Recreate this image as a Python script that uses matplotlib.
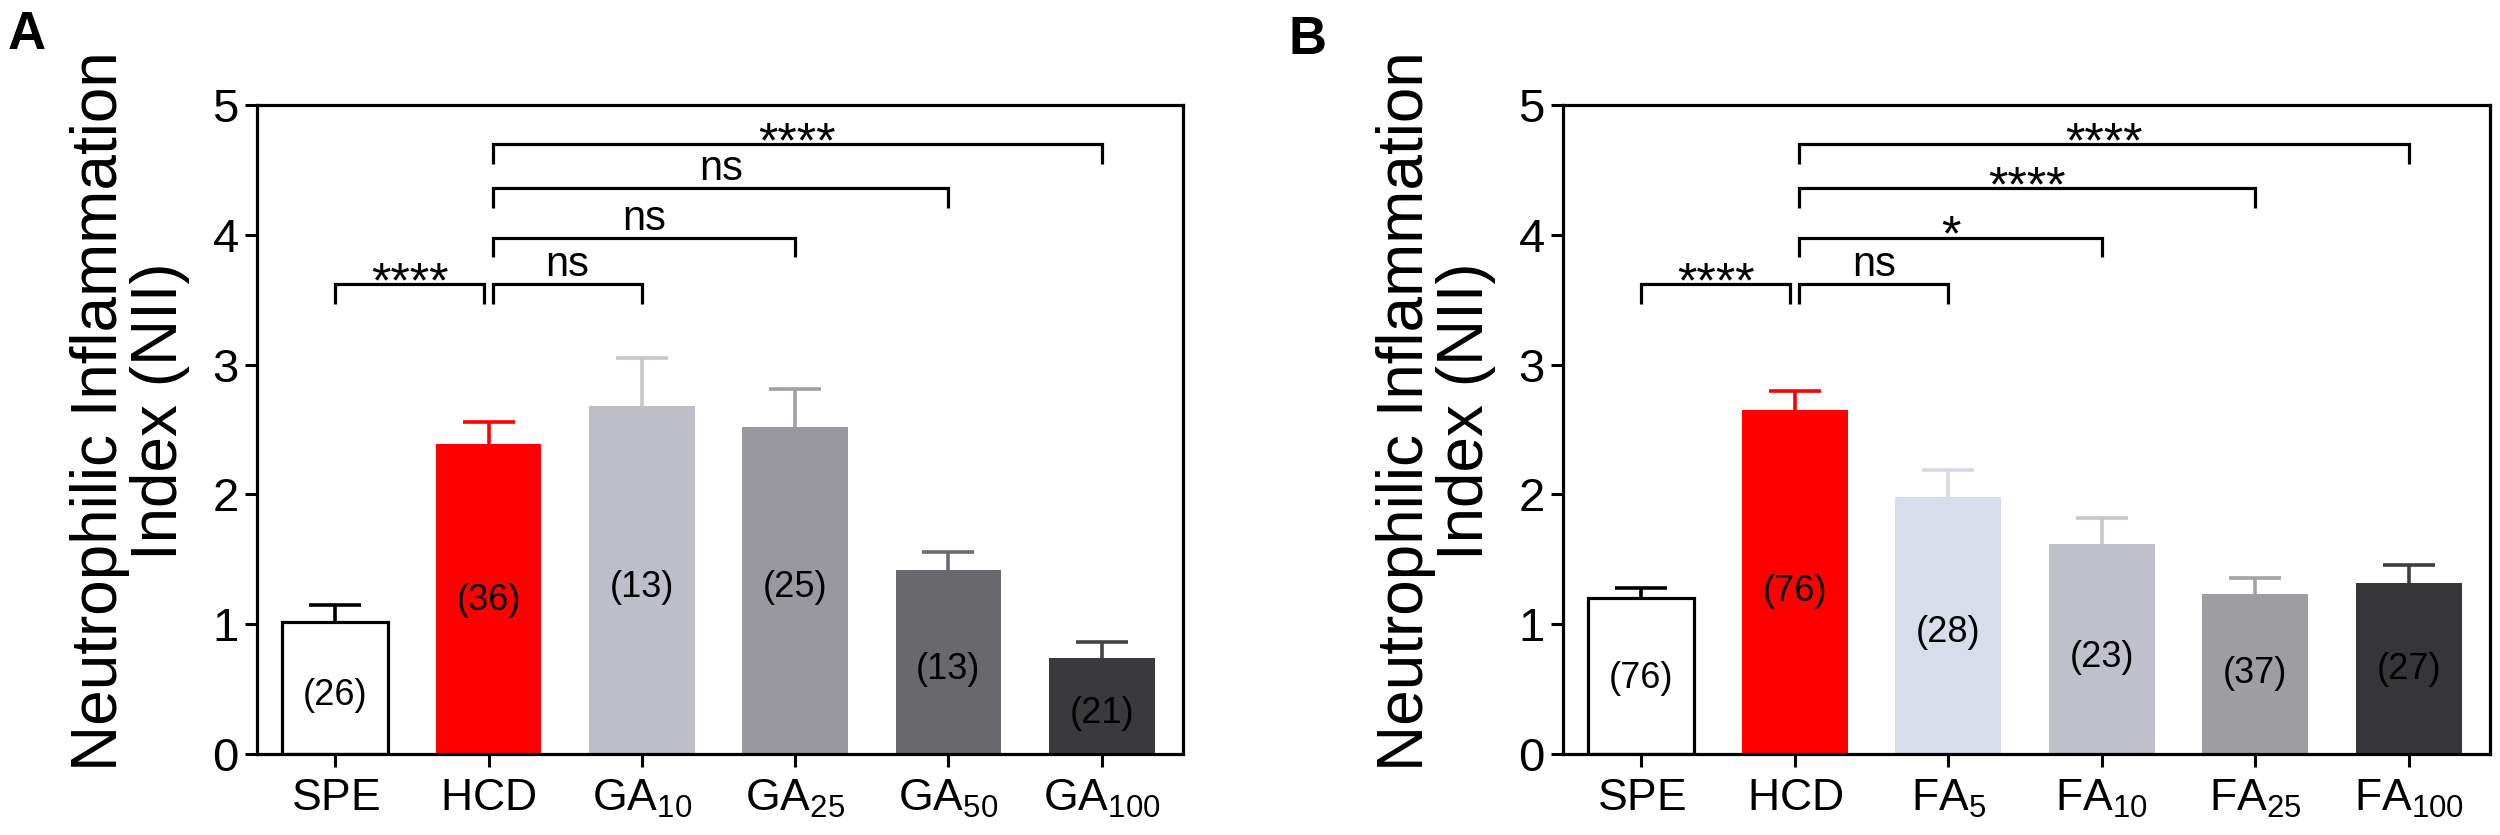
import matplotlib
matplotlib.use("Agg")
import matplotlib.pyplot as plt
import numpy as np

plt.rcParams['font.family'] = ['Liberation Sans', 'DejaVu Sans']
plt.rcParams['mathtext.fontset'] = 'custom'
plt.rcParams['mathtext.rm'] = 'Liberation Sans'
plt.rcParams['mathtext.it'] = 'Liberation Sans'
plt.rcParams['mathtext.bf'] = 'Liberation Sans:bold'

# ---------------- data ----------------
cats_a = ["SPE", "HCD", "GA_{10}", "GA_{25}", "GA_{50}", "GA_{100}"]
mean_a = [1.02, 2.39, 2.68, 2.52, 1.42, 0.74]
sem_a = [0.13, 0.17, 0.37, 0.29, 0.14, 0.12]
n_a = ["(26)", "(36)", "(13)", "(25)", "(13)", "(21)"]
nlab_y_a = [0.45, 1.18, 1.28, 1.28, 0.65, 0.31]
colors_a = ["#FFFFFF", "#FF0000", "#BEBEC9", "#98989E", "#69696D", "#3A3A3C"]
errc_a = ["#000000", "#FF0000", "#C6C6CF", "#A0A0A5", "#6B6B6F", "#444446"]
# brackets: (i, j, level y, text)
sig_a = [(0, 1, 3.62, "****"), (1, 2, 3.62, "ns"), (1, 3, 3.98, "ns"),
         (1, 4, 4.36, "ns"), (1, 5, 4.70, "****")]

cats_b = ["SPE", "HCD", "FA_{5}", "FA_{10}", "FA_{25}", "FA_{100}"]
mean_b = [1.20, 2.65, 1.98, 1.62, 1.23, 1.32]
sem_b = [0.08, 0.15, 0.21, 0.20, 0.13, 0.14]
n_b = ["(76)", "(76)", "(28)", "(23)", "(37)", "(27)"]
nlab_y_b = [0.58, 1.25, 0.94, 0.74, 0.62, 0.65]
colors_b = ["#FFFFFF", "#FF0000", "#D9DCEA", "#C0C0CB", "#9D9DA2", "#363638"]
errc_b = ["#000000", "#FF0000", "#D6D8E6", "#C6C6D0", "#A3A3A8", "#3E3E40"]
sig_b = [(0, 1, 3.62, "****"), (1, 2, 3.62, "ns"), (1, 3, 3.98, "*"),
         (1, 4, 4.36, "****"), (1, 5, 4.70, "****")]

yticks = [0, 1, 2, 3, 4, 5]
ylabel = "Neutrophilic Inflammation\nIndex (NII)"

fig = plt.figure(figsize=(25, 8.35), dpi=100)
axA = fig.add_axes([0.1028, 0.097, 0.3704, 0.777])
axB = fig.add_axes([0.6252, 0.097, 0.3708, 0.777])


def draw(ax, cats, mean, sem, nlab, nly, cols, errc, sigs):
    x = np.arange(len(cats))
    for i in range(len(cats)):
        ec = "black" if cols[i] == "#FFFFFF" else cols[i]
        lw = 2.3 if cols[i] == "#FFFFFF" else 0
        ax.bar(x[i], mean[i], width=0.69, color=cols[i], edgecolor=ec,
               linewidth=lw, zorder=2)
        eb = ax.errorbar(x[i], mean[i], yerr=[[0], [sem[i]]], color=errc[i],
                         elinewidth=2.6, capsize=19, capthick=2.6, zorder=1.5)
        caps = eb[1]
        if len(caps) == 2:
            caps[0].set_visible(False)
        ax.text(x[i], nly[i], nlab[i], ha="center", va="center",
                fontsize=26, color="black", zorder=3)
    for (i, j, yl, t) in sigs:
        xi = x[i] + (0.03 if i == 1 else 0)
        xj = x[j] - (0.03 if j == 1 else 0)
        ax.plot([xi, xi, xj, xj], [yl - 0.15, yl, yl, yl - 0.15],
                color="black", lw=2.3, solid_capstyle="butt",
                solid_joinstyle="miter", zorder=3)
        xm = (xi + xj) / 2
        if "*" in t:
            ax.text(xm, yl - 0.10, t, ha="center", va="baseline",
                    fontsize=36, color="black")
        else:
            ax.text(xm, yl + 0.06, t, ha="center", va="baseline",
                    fontsize=30, color="black")
    ax.set_xlim(-0.51, 5.53)
    ax.set_ylim(0, 5)
    ax.set_yticks(yticks)
    ax.set_yticklabels([str(v) for v in yticks])
    ax.set_xticks(x)
    ax.set_xticklabels([r"$\mathregular{" + c + "}$" for c in cats])
    ax.tick_params(axis="y", labelsize=34, length=9, width=2.2, pad=4,
                   direction="out")
    ax.tick_params(axis="x", labelsize=32, length=9, width=2.2, pad=8,
                   direction="out")
    for s in ax.spines.values():
        s.set_linewidth(2.3)
    ax.set_ylabel(ylabel, fontsize=46, linespacing=1.0)
    ax.yaxis.set_label_coords(-0.072, 0.528)


draw(axA, cats_a, mean_a, sem_a, n_a, nlab_y_a, colors_a, errc_a, sig_a)
draw(axB, cats_b, mean_b, sem_b, n_b, nlab_y_b, colors_b, errc_b, sig_b)

fig.text(0.003, 0.988, "A", fontsize=38, fontweight="bold", va="top", ha="left")
fig.text(0.5155, 0.982, "B", fontsize=38, fontweight="bold", va="top", ha="left")

fig.savefig("out.png", dpi=100)
